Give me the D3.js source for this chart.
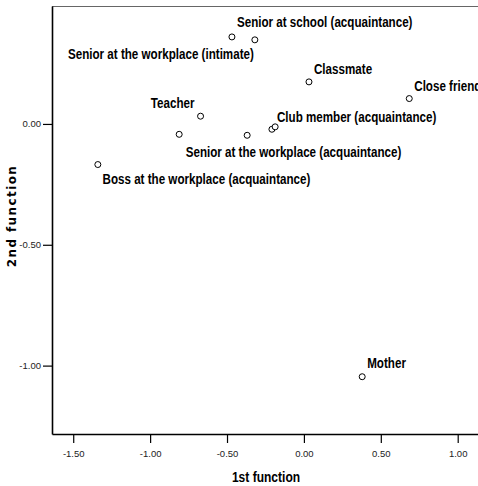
<!DOCTYPE html>
<html><head><meta charset="utf-8">
<script src="https://cdn.jsdelivr.net/npm/d3@7"></script>
<style>
html,body{margin:0;padding:0;background:#fff;}
svg{display:block;}
</style></head>
<body>
<script>
// ---- data ----
const groups = ["Senior at school (acquaintance)", "Senior at the workplace (intimate)", "Classmate", "Close friend",
  "Teacher", "Senior at the workplace (acquaintance)", "Boss at the workplace (acquaintance)", "", "Club member (acquaintance)", "", "Mother"];
const fn1 = [-0.468, -0.319, 0.033, 0.685, -0.672, -0.811, -1.340, -0.369, -0.208, -0.187, 0.379];
const fn2 = [0.360, 0.348, 0.174, 0.105, 0.032, -0.043, -0.168, -0.047, -0.022, -0.012, -1.046];
const xTicks = [-1.5, -1.0, -0.5, 0.0, 0.5, 1.0];
const yTicks = [0.0, -0.5, -1.0];
const xTitle = "1st function";
const yTitle = "2nd function";

// ---- layout (label placement relative to point) ----
const labelPlace = {
  "Senior at school (acquaintance)": {dx: 5, dy: -10, anchor: "start"},
  "Senior at the workplace (intimate)": {dx: -1, dy: 19, anchor: "end"},
  "Classmate": {dx: 5, dy: -8, anchor: "start"},
  "Close friend": {dx: 5, dy: -7.5, anchor: "start"},
  "Teacher": {dx: -6, dy: -8.5, anchor: "end"},
  "Senior at the workplace (acquaintance)": {dx: 6.5, dy: 22.5, anchor: "start"},
  "Boss at the workplace (acquaintance)": {dx: 4.7, dy: 19.5, anchor: "start"},
  "Club member (acquaintance)": {dx: 5, dy: -7.5, anchor: "start"},
  "Mother": {dx: 5, dy: -8.5, anchor: "start"}
};
const labelScaleX = 0.83;

const W = 478, H = 486;
const svg = d3.select("body").append("svg").attr("width", W).attr("height", H);
const x = d3.scaleLinear().domain([-1.638, 1.132]).range([52, 478]);
const y = d3.scaleLinear().domain([-1.283, 0.488]).range([434, 6]);

const fmt = d => d.toFixed(2);
const tickFont = "'Liberation Sans Narrow', 'Liberation Sans', sans-serif";
const labelFont = "'Liberation Sans Narrow', sans-serif";

// top border
svg.append("line").attr("x1", 52).attr("x2", 478).attr("y1", 6.5).attr("y2", 6.5)
  .attr("stroke", "#666").attr("stroke-width", 1.2);

const gx = svg.append("g").attr("transform", "translate(0,434)")
  .call(d3.axisBottom(x).tickValues(xTicks).tickFormat(fmt).tickSize(9).tickSizeOuter(0));
const gy = svg.append("g").attr("transform", "translate(52,0)")
  .call(d3.axisLeft(y).tickValues(yTicks).tickFormat(fmt).tickSize(9).tickSizeOuter(0));

[gx, gy].forEach(g => {
  g.select(".domain").attr("stroke", "#000").attr("stroke-width", 1.6);
  g.selectAll(".tick line").attr("stroke", "#000").attr("stroke-width", 1.2);
  g.selectAll(".tick text").attr("fill", "#222").style("font-family", tickFont).style("font-size", "9.5px");
});
gx.selectAll(".tick text").attr("dy", "0").attr("y", 23);
gy.selectAll(".tick text").attr("x", -11).attr("dy", "0.32em");

// axis titles
svg.append("text").attr("transform", "translate(266,482) scale(0.86,1)").attr("text-anchor", "middle")
  .style("font-family", labelFont).style("font-weight", "bold").style("font-size", "14px")
  .text(xTitle);
svg.append("text").attr("transform", "translate(16,216) rotate(-90)").attr("text-anchor", "middle")
  .style("font-family", "'DejaVu Sans', sans-serif").style("font-weight", "bold").style("font-size", "12px")
  .style("letter-spacing", "1.4px")
  .text(yTitle);

const pts = groups.map((g, i) => ({name: g, a: fn1[i], b: fn2[i]}));

svg.append("g").selectAll("circle").data(pts).join("circle")
  .attr("cx", d => x(d.a)).attr("cy", d => y(d.b)).attr("r", 3)
  .attr("fill", "#fff").attr("stroke", "#000").attr("stroke-width", 1);

svg.append("g").selectAll("text").data(pts.filter(d => d.name)).join("text")
  .attr("transform", d => `translate(${x(d.a) + labelPlace[d.name].dx},${y(d.b) + labelPlace[d.name].dy}) scale(${labelScaleX},1)`)
  .attr("text-anchor", d => labelPlace[d.name].anchor)
  .style("font-family", labelFont)
  .style("font-weight", "bold").style("font-size", "14px").attr("fill", "#000")
  .text(d => d.name);
</script>
</body></html>
